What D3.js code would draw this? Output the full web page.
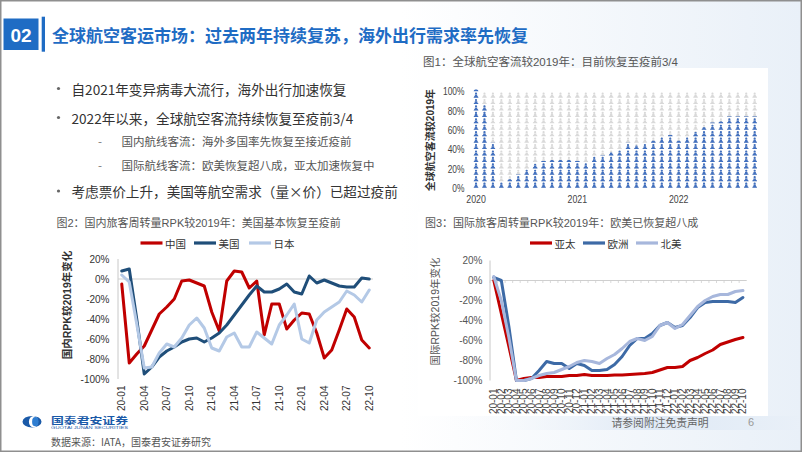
<!DOCTYPE html>
<html><head><meta charset="utf-8">
<script src="https://cdn.jsdelivr.net/npm/d3@7"></script>
<style>body{margin:0;background:#fff}svg{display:block}</style>
</head><body>
<svg id="c" width="802" height="452"></svg>
<script>
// ---------------- DATA ----------------
const months = ["20-01","20-02","20-03","20-04","20-05","20-06","20-07","20-08","20-09","20-10","20-11","20-12",
  "21-01","21-02","21-03","21-04","21-05","21-06","21-07","21-08","21-09","21-10","21-11","21-12",
  "22-01","22-02","22-03","22-04","22-05","22-06","22-07","22-08","22-09","22-10"];
// Fig1: global passenger traffic vs 2019 (%)
const globalRecovery = [102,86,47,6,9,14,20,25,28,29,29,29,28,26,33,34,37,39,47,44,46,49,53,55,49,53,58,63,68,69,74,74,74,74];
const yearLabels = ["2020","2021","2022"];
const fig1Ticks = [0,20,40,60,80,100];
// Fig2: domestic RPK vs 2019 (%)
const domNames = ["中国","美国","日本"];
const china = [-5,-84,-75,-67,-51,-35,-28,-20,-2,-1,-4,-7,-33,-52,-2,8,7,-9,-2,-56,-25,-25,-50,-41,-34,-35,-54,-79,-71,-51,-30,-38,-61,-69];
const usa   = [8,10,-40,-95,-88,-78,-72,-68,-63,-60,-59,-63,-59,-54,-46,-36,-26,-16,-7,-13,-13,-10,-5,-13,-15,3,-4,-1,-4,-7,-8,-8,1,0];
const japan = [4,-3,-45,-89,-88,-74,-65,-68,-59,-46,-39,-49,-69,-72,-58,-54,-68,-68,-53,-59,-65,-46,-36,-25,-60,-64,-41,-33,-28,-23,-12,-16,-23,-11];
// Fig3: international RPK vs 2019 (%)
const intlNames = ["亚太","欧洲","北美"];
const apac     = [0,-33,-66,-100,-98,-97,-97,-96,-96,-96,-95,-95,-94,-95,-95,-95,-94.5,-94.5,-94,-93.5,-93,-92,-89.5,-87,-87,-86,-80,-77,-73,-69.5,-64,-61.5,-59,-57];
const europe   = [3,0,-46,-100,-100,-98,-90,-81,-83,-83,-88,-83,-85,-90,-90,-89,-84,-76,-65,-58,-58,-53,-45,-42,-47,-45,-37,-27,-22,-21,-21,-21,-22,-17];
const namerica = [4,-20,-57,-100,-100,-98,-95,-93,-92,-89,-86,-82,-80,-81,-83,-78,-74,-68,-61,-58,-60,-56,-45,-42,-48,-44,-35,-26,-20,-16,-14,-14,-11,-10];
const rpkTicks = [20,0,-20,-40,-60,-80,-100];

const slideTitle = "全球航空客运市场：过去两年持续复苏，海外出行需求率先恢复";
const bullets = ["自2021年变异病毒大流行，海外出行加速恢复","2022年以来，全球航空客流持续恢复至疫前3/4"];
const subBullets = ["国内航线客流：海外多国率先恢复至接近疫前","国际航线客流：欧美恢复超八成，亚太加速恢复中"];
const lastBullet = "考虑票价上升，美国等航空需求（量×价）已超过疫前";

// ---------------- STYLE ----------------
const CJK = "'Noto Sans CJK SC', sans-serif";
const LAT = "'Liberation Sans', Arial, 'Noto Sans CJK SC', sans-serif";
const BLUE = "#1f6cc4";

const svg = d3.select("#c");
const defs = svg.append("defs");
const g0 = defs.append("linearGradient").attr("id","bg").attr("x1","0").attr("x2","1").attr("y1","0").attr("y2","0");
g0.append("stop").attr("offset","0").attr("stop-color","#ffffff");
g0.append("stop").attr("offset","0.5").attr("stop-color","#ffffff");
g0.append("stop").attr("offset","1").attr("stop-color","#e9f0f8");
svg.append("rect").attr("width",802).attr("height",452).attr("fill","url(#bg)");
const g1 = defs.append("linearGradient").attr("id","foot").attr("x1","0").attr("x2","1");
g1.append("stop").attr("offset","0").attr("stop-color","#ffffff").attr("stop-opacity",0);
g1.append("stop").attr("offset","0.6").attr("stop-color","#dfe9f5");
g1.append("stop").attr("offset","1").attr("stop-color","#e9f0f8");
svg.append("rect").attr("x",420).attr("y",416).attr("width",382).attr("height",14).attr("fill","url(#foot)");
// figure image backgrounds
svg.append("rect").attr("x",420).attr("y",68).attr("width",348).attr("height",144).attr("fill","#fff");
svg.append("rect").attr("x",418).attr("y",212).attr("width",350).attr("height",204).attr("fill","#fff");

// ---------------- HEADER ----------------
svg.append("rect").attr("x",3.5).attr("y",18.5).attr("width",35).attr("height",31.5).attr("fill",BLUE);
svg.append("text").attr("x",21).attr("y",35).attr("text-anchor","middle").attr("dominant-baseline","central")
  .attr("fill","#fff").attr("font-family",LAT).attr("font-weight","bold").attr("font-size",19).text("02");
svg.append("rect").attr("x",41.7).attr("y",16.7).attr("width",3.3).attr("height",35).attr("fill",BLUE);
svg.append("text").attr("x",52).attr("y",34.5).attr("dominant-baseline","central")
  .attr("fill",BLUE).attr("font-family",CJK).attr("font-weight","bold").attr("font-size",17).text(slideTitle);

// ---------------- BULLETS ----------------
const bulletY = [88.5, 117.5];
bullets.forEach((t,i)=>{
  svg.append("circle").attr("cx",58.5).attr("cy",bulletY[i]).attr("r",1.6).attr("fill","#666");
  svg.append("text").attr("x",71.5).attr("y",bulletY[i]).attr("dominant-baseline","central")
    .attr("fill","#333").attr("font-family",CJK).attr("font-size",13.6).text(t);
});
const subY = [141, 164.5];
subBullets.forEach((t,i)=>{
  svg.append("text").attr("x",98).attr("y",subY[i]).attr("dominant-baseline","central")
    .attr("fill","#777").attr("font-family",CJK).attr("font-size",11.5).text("-");
  svg.append("text").attr("x",121.5).attr("y",subY[i]).attr("dominant-baseline","central")
    .attr("fill","#555").attr("font-family",CJK).attr("font-size",11.5).text(t);
});
svg.append("circle").attr("cx",58.5).attr("cy",191).attr("r",1.6).attr("fill","#666");
svg.append("text").attr("x",71.5).attr("y",191).attr("dominant-baseline","central")
  .attr("fill","#333").attr("font-family",CJK).attr("font-size",13.6).text(lastBullet);

// ---------------- FIG 1 ----------------
svg.append("text").attr("x",423).attr("y",62).attr("dominant-baseline","central").attr("fill","#555")
  .attr("font-family",LAT).attr("font-size",11.5).text("图1：全球航空客流较2019年：目前恢复至疫前3/4");
const x1 = d3.scaleBand().domain(months).range([471.8,758.9]);
const y1 = d3.scaleLinear().domain([0,100]).range([188,91.5]);
const bw1 = x1.bandwidth();
const unit = 100/15;
const unitPx = y1(0)-y1(unit);
const iconPath = "M-0.37,0 L0.37,0 L0.31,-0.16 L0.17,-0.26 L0.2,-0.44 L-0.2,-0.44 L-0.17,-0.26 L-0.31,-0.16 Z";
const fig1 = svg.append("g");
months.forEach((m,i)=>{
  const v = globalRecovery[i];
  const cx = x1(m)+bw1/2;
  const col = fig1.append("g");
  for(let k=0;k<15;k++){
    const gg = col.append("g").attr("transform",`translate(${cx},${y1(k*unit)-0.3}) scale(${unitPx})`).attr("fill","#d9d9d9");
    gg.append("path").attr("d",iconPath);
    gg.append("circle").attr("cx",0).attr("cy",-0.63).attr("r",0.17);
  }
  defs.append("clipPath").attr("id","cl"+i).append("rect")
    .attr("x",x1(m)).attr("y",y1(v)).attr("width",bw1).attr("height",y1(0)-y1(v)+2);
  const blue = fig1.append("g").attr("clip-path",`url(#cl${i})`);
  const nIcons = Math.ceil(v/unit);
  for(let k=0;k<nIcons;k++){
    const gg = blue.append("g").attr("transform",`translate(${cx},${y1(k*unit)-0.3}) scale(${unitPx})`).attr("fill","#4170c0");
    gg.append("path").attr("d",iconPath);
    gg.append("circle").attr("cx",0).attr("cy",-0.63).attr("r",0.17);
  }
});
fig1Ticks.forEach(t=>{
  svg.append("text").attr("transform",`translate(464.5,${y1(t)}) scale(0.8,1)`).attr("text-anchor","end")
    .attr("dominant-baseline","central").attr("fill","#444").attr("font-family",LAT).attr("font-size",10.5).text(t+"%");
});
yearLabels.forEach((t,i)=>{
  const m = months[i*12];
  svg.append("text").attr("transform",`translate(${x1(m)+bw1/2},${199.5}) scale(0.8,1)`).attr("text-anchor","middle")
    .attr("dominant-baseline","central").attr("fill","#444").attr("font-family",LAT).attr("font-size",11).text(t);
});
svg.append("text").attr("transform",`translate(430,140) rotate(-90)`).attr("text-anchor","middle")
  .attr("dominant-baseline","central").attr("fill","#333").attr("font-weight","bold")
  .attr("font-family",LAT).attr("font-size",10).text("全球航空客流较2019年");

// ---------------- LINE CHART helper ----------------
function lineChart(opt){
  const x = d3.scaleBand().domain(months).range(opt.xr);
  const y = d3.scaleLinear().domain([-100,20]).range(opt.yr);
  const bw = x.bandwidth();
  const g = svg.append("g");
  g.append("text").attr("x",opt.titleX).attr("y",223).attr("dominant-baseline","central").attr("fill","#555")
    .attr("font-family",LAT).attr("font-size",11).text(opt.title);
  g.append("line").attr("x1",opt.xr[0]).attr("x2",opt.xr[0]).attr("y1",y(20)).attr("y2",y(-100))
    .attr("stroke","#c8c8c8").attr("stroke-width",1);
  g.append("line").attr("x1",opt.xr[0]).attr("x2",opt.xr[1]).attr("y1",y(0)).attr("y2",y(0))
    .attr("stroke","#cfcfcf").attr("stroke-width",1.2);
  if(opt.ticks){
    months.forEach(m=>{
      g.append("line").attr("x1",x(m)).attr("x2",x(m)).attr("y1",y(0)).attr("y2",y(0)+2.5)
        .attr("stroke","#cfcfcf").attr("stroke-width",0.8);
    });
  }
  rpkTicks.forEach(t=>{
    g.append("text").attr("x",opt.labelX).attr("y",y(t)).attr("text-anchor","end").attr("dominant-baseline","central")
      .attr("fill",opt.labelColor).attr("font-family",LAT).attr("font-size",10).text(t+"%");
  });
  months.forEach((m,i)=>{
    if(i % opt.every !== 0) return;
    g.append("text").attr("transform",`translate(${x(m)+bw/2},${opt.xLabY}) rotate(-90)`).attr("text-anchor","end")
      .attr("dominant-baseline","central").attr("fill",opt.xLabColor).attr("font-family",LAT)
      .attr("font-size",opt.xFont).text(m);
  });
  g.append("text").attr("transform",`translate(${opt.ytX},${opt.ytY}) rotate(-90)`).attr("text-anchor","middle")
    .attr("dominant-baseline","central").attr("fill",opt.ytColor).attr("font-weight",opt.ytWeight)
    .attr("font-family",LAT).attr("font-size",10.5).text(opt.yTitle);
  const line = d3.line().x((d,i)=>x(months[i])+bw/2).y(d=>y(d)).curve(d3.curveLinear);
  opt.series.forEach((s,k)=>{
    g.append("path").attr("d",line(s.values)).attr("fill","none").attr("stroke",s.color)
      .attr("stroke-width",3).attr("stroke-linejoin","round").attr("stroke-linecap","round");
  });
  opt.series.forEach((s,k)=>{
    const lx = opt.legX[k];
    g.append("line").attr("x1",lx).attr("x2",lx+22).attr("y1",243).attr("y2",243)
      .attr("stroke",s.color).attr("stroke-width",3.2);
    g.append("text").attr("x",lx+24.5).attr("y",243).attr("dominant-baseline","central").attr("fill","#333")
      .attr("font-family",CJK).attr("font-size",10.5).text(s.name);
  });
}

lineChart({
  title:"图2：国内旅客周转量RPK较2019年：美国基本恢复至疫前", titleX:56.5,
  xr:[118,373], yr:[379,259], labelX:109.5, labelColor:"#333", xLabColor:"#333", every:3, xLabY:385.5, xFont:10,
  ytX:67, ytY:305, yTitle:"国内RPK较2019年变化", ytColor:"#333", ytWeight:"bold", ticks:false,
  legX:[140.5,194,249],
  series:[{name:domNames[0],values:china,color:"#c00000"},
          {name:domNames[1],values:usa,color:"#1f4e79"},
          {name:domNames[2],values:japan,color:"#b4c9e6"}]
});
lineChart({
  title:"图3：国际旅客周转量RPK较2019年：欧美已恢复超八成", titleX:425,
  xr:[490,746.7], yr:[380.5,260.5], labelX:482.5, labelColor:"#555", xLabColor:"#444", every:1, xLabY:388.5, xFont:10,
  ytX:435, ytY:311.5, yTitle:"国际RPK较2019年变化", ytColor:"#555", ytWeight:"normal", ticks:true,
  legX:[530,583,636],
  series:[{name:intlNames[0],values:apac,color:"#c00000"},
          {name:intlNames[1],values:europe,color:"#3d6aa6"},
          {name:intlNames[2],values:namerica,color:"#a7b7dc"}]
});

// ---------------- FOOTER ----------------
svg.append("ellipse").attr("cx",32).attr("cy",421.7).attr("rx",9.5).attr("ry",5.8).attr("fill","#1a5aa8");
svg.append("ellipse").attr("cx",33.5).attr("cy",421.7).attr("rx",4.6).attr("ry",5.6).attr("fill","#fff");
svg.append("ellipse").attr("cx",35.3).attr("cy",421.7).attr("rx",3.2).attr("ry",4.6).attr("fill","#2e7dd1");
svg.append("text").attr("x",51).attr("y",419.6).attr("dominant-baseline","central").attr("fill","#1a5aa8")
  .attr("font-family",CJK).attr("font-weight","bold").attr("font-size",8.6)
  .attr("textLength",77).attr("lengthAdjust","spacingAndGlyphs").text("国泰君安证券");
svg.append("text").attr("x",51).attr("y",428.2).attr("dominant-baseline","central").attr("fill","#1a5aa8")
  .attr("font-family",LAT).attr("font-size",3.4)
  .attr("textLength",77).attr("lengthAdjust","spacingAndGlyphs").text("GUOTAI JUNAN SECURITIES");
svg.append("text").attr("x",51).attr("y",441.5).attr("dominant-baseline","central").attr("fill","#555")
  .attr("font-family",CJK).attr("font-size",10).text("数据来源：IATA，国泰君安证券研究");
svg.append("text").attr("x",611.5).attr("y",421.7).attr("dominant-baseline","central").attr("fill","#666")
  .attr("font-family",CJK).attr("font-size",10.8).text("请参阅附注免责声明");
svg.append("text").attr("x",748).attr("y",421.7).attr("dominant-baseline","central").attr("fill","#999")
  .attr("font-family",LAT).attr("font-size",11).text("6");

// frame
svg.append("rect").attr("x",0.75).attr("y",0.75).attr("width",800.5).attr("height",450.5)
  .attr("fill","none").attr("stroke","#8f8f8f").attr("stroke-width",1.5);
</script>
</body></html>
